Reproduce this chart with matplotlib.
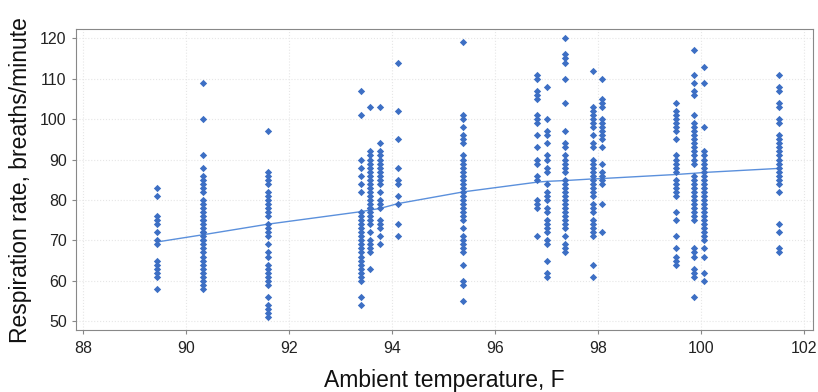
import matplotlib.pyplot as plt
from matplotlib import font_manager

# ambient temperature (F) of each column of readings
temps = [89.44, 90.34, 91.59, 93.40, 93.58, 93.77, 94.12, 95.39, 96.82,
         97.01, 97.37, 97.90, 98.09, 99.52, 99.87, 100.06, 101.51]

# respiration rates (breaths/minute) read per column
rates = [
    [83, 81, 76, 75, 74, 72, 70, 69, 65, 64, 63, 62, 61, 58],
    [109, 100, 91, 88, 86, 85, 84, 83, 82, 80, 79, 78, 77, 76, 75, 75, 74, 73, 72, 72,
     71, 70, 70, 69, 68, 67, 66, 65, 64, 63, 62, 61, 60, 59, 58],
    [97, 87, 86, 85, 84, 82, 81, 80, 79, 78, 77, 76, 74, 73, 72, 71, 69, 67, 66, 64,
     63, 62, 61, 60, 59, 56, 54, 53, 52, 51],
    [107, 101, 90, 88, 86, 84, 82, 77, 76, 75, 74, 73, 72, 71, 70, 69, 68, 67, 66, 65,
     64, 63, 62, 61, 60, 56, 54],
    [103, 92, 91, 90, 89, 88, 87, 86, 85, 84, 83, 82, 81, 80, 79, 78, 78, 77, 76, 75,
     74, 72, 70, 69, 68, 67, 63],
    [103, 94, 92, 91, 90, 89, 88, 87, 86, 85, 84, 82, 80, 79, 78, 75, 74, 73, 71, 69],
    [114, 102, 95, 88, 85, 84, 81, 79, 74, 71],
    [119, 101, 100, 98, 96, 95, 94, 91, 90, 89, 88, 87, 86, 85, 84, 83, 82, 81, 80, 79,
     78, 77, 76, 75, 73, 71, 70, 69, 68, 67, 64, 60, 59, 55],
    [111, 110, 107, 106, 105, 101, 100, 99, 96, 93, 90, 89, 86, 85, 80, 79, 78, 71],
    [108, 100, 97, 96, 94, 91, 90, 88, 87, 84, 82, 81, 80, 78, 77, 75, 74, 73, 72, 70,
     69, 65, 62, 61],
    [120, 116, 115, 114, 110, 104, 97, 94, 93, 91, 90, 89, 88, 87, 85, 84, 83, 82, 81,
     80, 79, 78, 77, 76, 75, 74, 73, 71, 69, 68, 67],
    [112, 103, 102, 101, 100, 99, 98, 96, 94, 93, 90, 89, 88, 87, 86, 85, 84, 83, 82,
     81, 79, 78, 77, 75, 74, 73, 72, 71, 64, 61],
    [110, 105, 104, 103, 100, 99, 98, 97, 96, 95, 93, 89, 87, 86, 85, 84, 79, 72],
    [104, 102, 101, 100, 99, 98, 97, 95, 91, 90, 89, 88, 87, 85, 84, 83, 82, 81, 77,
     75, 71, 68, 66, 65, 64],
    [117, 111, 109, 107, 106, 101, 99, 98, 97, 96, 95, 94, 93, 92, 91, 90, 89, 86, 85,
     84, 83, 82, 81, 80, 79, 78, 77, 76, 75, 68, 67, 66, 63, 62, 61, 56],
    [113, 109, 98, 92, 91, 90, 89, 88, 87, 86, 85, 84, 83, 82, 81, 80, 79, 78, 77, 76,
     75, 74, 73, 72, 71, 70, 68, 66, 62, 60],
    [111, 108, 107, 104, 103, 100, 99, 96, 95, 94, 93, 92, 91, 90, 89, 88, 87, 86, 85,
     84, 82, 74, 72, 68, 67],
]

# smoothed fit at each column
fit_rates = [69.6, 71.4, 74.0, 77.1, 77.5, 77.9, 79.1, 82.0, 84.4,
             84.6, 84.8, 85.2, 85.3, 86.3, 86.6, 86.8, 87.8]

xticks = [88, 90, 92, 94, 96, 98, 100, 102]
yticks = [50, 60, 70, 80, 90, 100, 110, 120]

plt.rcParams['font.family'] = ['Liberation Sans', 'DejaVu Sans']
names = {f.name for f in font_manager.fontManager.ttflist}
tick_family = 'Liberation Sans Narrow' if 'Liberation Sans Narrow' in names else 'Liberation Sans'

fig = plt.figure(figsize=(8.18, 3.92), dpi=100)
ax = fig.add_axes([0.0925, 0.158, 0.9015, 0.767])

xs, ys = [], []
for t, col in zip(temps, rates):
    xs += [t] * len(col)
    ys += col

ax.scatter(xs, ys, marker='D', s=14, color='#3d6fc4', linewidths=0, zorder=3)
ax.plot(temps, fit_rates, color='#5b90dc', lw=1.0, zorder=2)

ax.set_xlim(87.86, 102.18)
ax.set_ylim(47.8, 122.2)
ax.set_xticks(xticks)
ax.set_yticks(yticks)
ax.grid(True, color='#e6e6e6', linestyle=':', linewidth=0.8)
ax.set_axisbelow(True)

for s in ax.spines.values():
    s.set_color('#888888')
    s.set_linewidth(0.8)
ax.tick_params(colors='#888888', labelcolor='#222222', labelsize=11.5, length=3, width=0.8)
ax.tick_params(axis='x', pad=5)
for lab in ax.get_xticklabels() + ax.get_yticklabels():
    lab.set_family(tick_family)

ax.set_xlabel('Ambient temperature, F', fontsize=16.5, color='#111111', labelpad=9)
ax.set_ylabel('Respiration rate, breaths/minute', fontsize=16.5, color='#111111', labelpad=6)

plt.savefig('out.png', dpi=100)
plt.close()
